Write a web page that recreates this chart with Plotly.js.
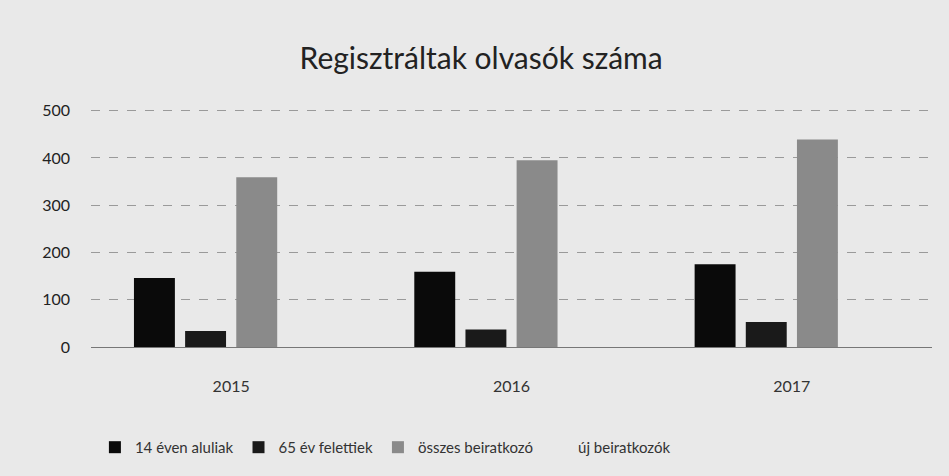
<!DOCTYPE html>
<html><head><meta charset="utf-8">
<script src="https://cdn.plot.ly/plotly-3.0.1.min.js"></script>
<style>html,body{margin:0;padding:0;background:#e9e9e9;}</style>
</head><body>
<div id="chart" style="width:949px;height:476px;"></div>
<script>
const years = ['2015', '2016', '2017'];
const under14 = [146, 159, 175];
const over65 = [34, 37, 53];
const total = [359, 395, 439];
const newReg = [0, 0, 0];
const seriesNames = ['14 éven aluliak', '65 év felettiek', 'összes beiratkozó', 'új beiratkozók'];

const font = "Lato, 'Open Sans', sans-serif";
const mk = (y, name, color) => ({
  type: 'bar', x: years, y: y, name: name,
  marker: {color: color, line: {width: 0}}
});
const data = [
  mk(under14, seriesNames[0], '#0a0a0a'),
  mk(over65, seriesNames[1], '#1a1a1a'),
  mk(total, seriesNames[2], '#8a8a8a'),
  mk(newReg, seriesNames[3], '#e9e9e9')
];
const layout = {
  width: 949, height: 476,
  paper_bgcolor: '#e9e9e9', plot_bgcolor: '#e9e9e9',
  margin: {l: 91, r: 17, t: 106, b: 129},
  title: {text: 'Regisztráltak olvasók száma', font: {family: font, size: 30, color: '#222'}, x: 0.507, xanchor: 'center', y: 0.878, yanchor: 'middle'},
  barmode: 'group', bargap: 0.27, bargroupgap: 0.2,
  xaxis: {type: 'category', showgrid: false, zeroline: false, showline: false, ticks: '',
    tickfont: {family: font, size: 16, color: '#333'}, ticklabelstandoff: 28},
  yaxis: {range: [0, 510], tickvals: [0, 100, 200, 300, 400, 500], showgrid: true, gridcolor: '#9a9a9a', griddash: 'dash', gridwidth: 1,
    zeroline: true, zerolinecolor: '#777', zerolinewidth: 1, showline: false, ticks: '',
    tickfont: {family: font, size: 16, color: '#222'}, ticklabelstandoff: 20},
  showlegend: true,
  legend: {orientation: 'h', xref: 'container', yref: 'container', x: 0.1, xanchor: 'left', y: 0.06, yanchor: 'middle',
    font: {family: font, size: 15, color: '#333'}, bgcolor: 'rgba(0,0,0,0)', itemwidth: 30, traceorder: 'normal'}
};
Plotly.newPlot('chart', data, layout, {displayModeBar: false, staticPlot: true});
</script>
</body></html>
